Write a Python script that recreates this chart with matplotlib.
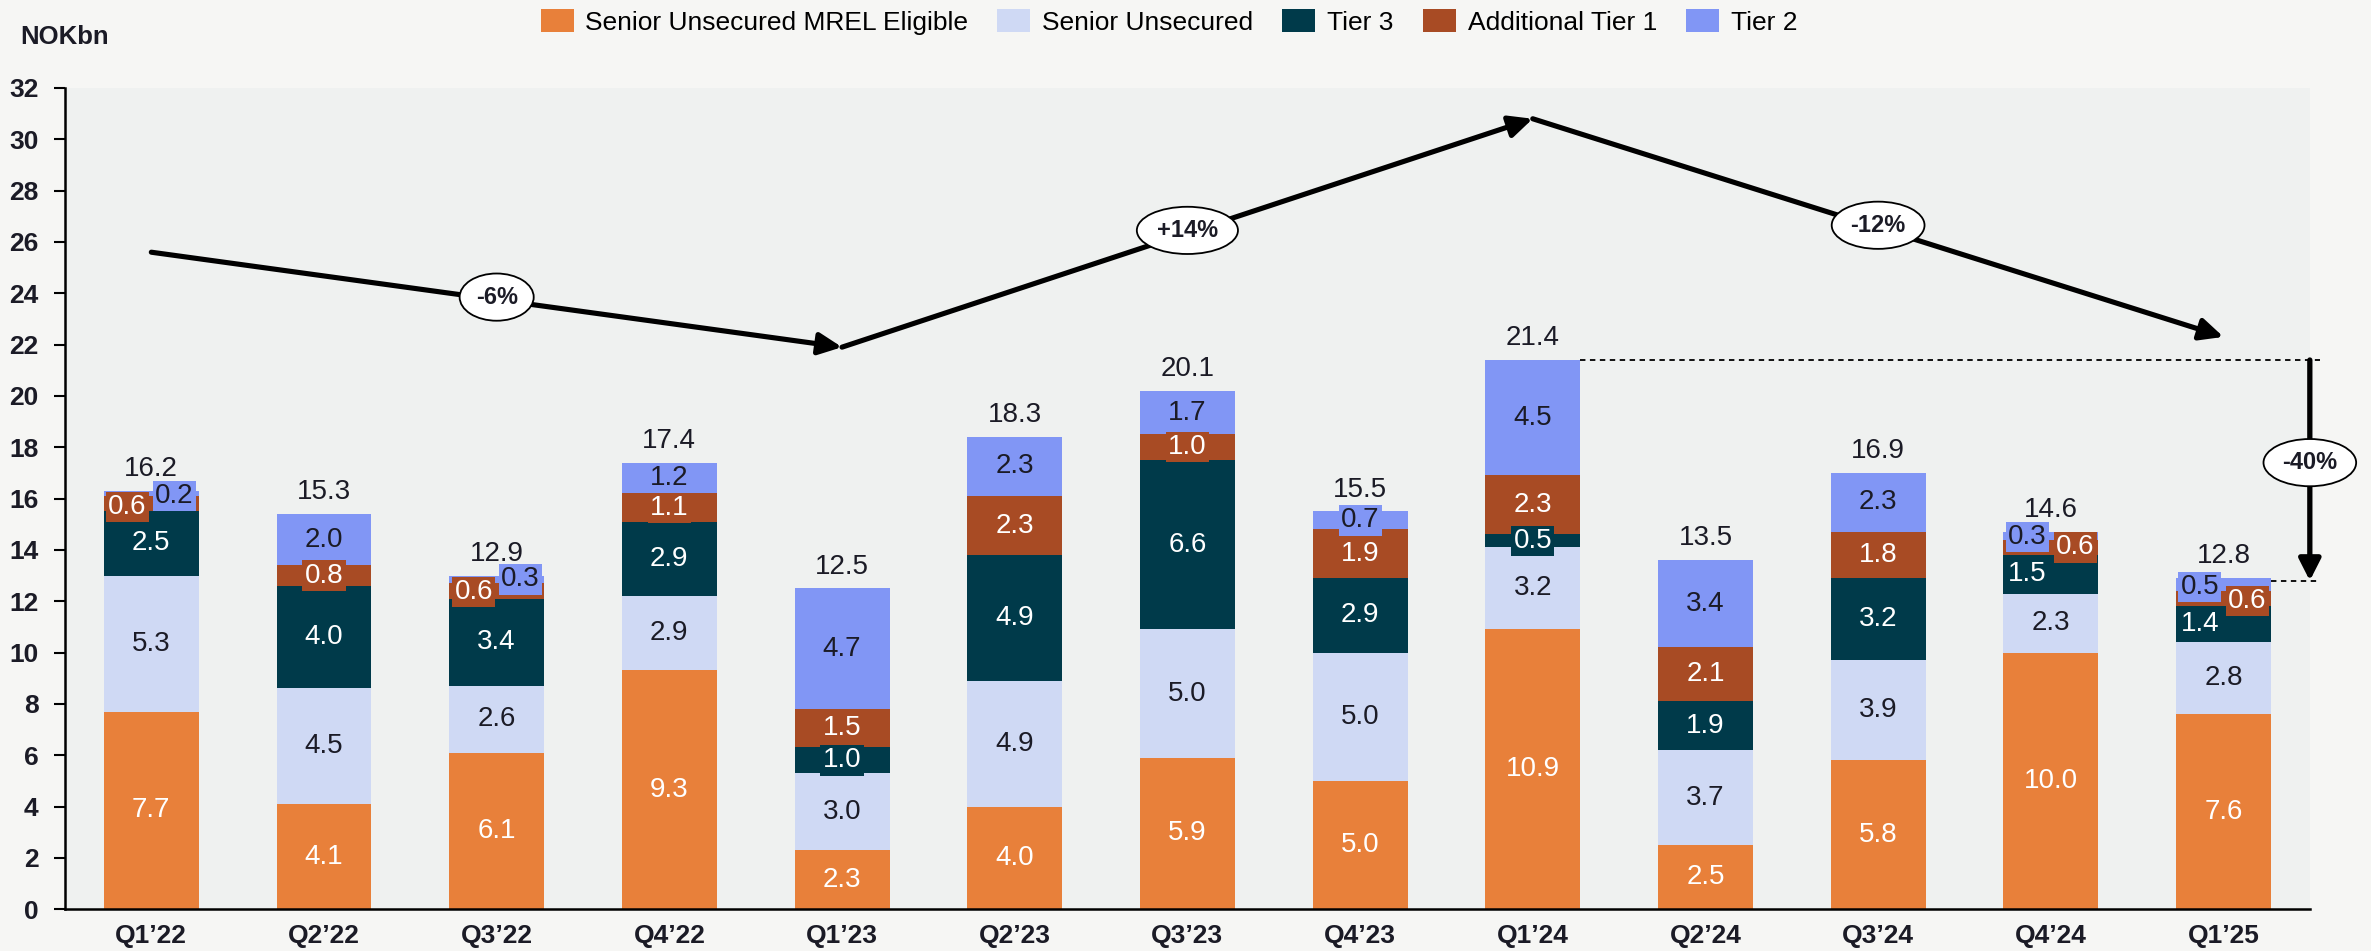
import matplotlib
matplotlib.use("Agg")
import numpy as np
import matplotlib.pyplot as plt
from matplotlib.patches import Patch

plt.rcParams['font.family'] = ['Liberation Sans', 'DejaVu Sans']

# Dane (NOKbn)
kwartaly = ['Q1’22', 'Q2’22', 'Q3’22', 'Q4’22', 'Q1’23', 'Q2’23', 'Q3’23',
            'Q4’23', 'Q1’24', 'Q2’24', 'Q3’24', 'Q4’24', 'Q1’25']
mrel = [7.7, 4.1, 6.1, 9.3, 2.3, 4.0, 5.9, 5.0, 10.9, 2.5, 5.8, 10.0, 7.6]
senior = [5.3, 4.5, 2.6, 2.9, 3.0, 4.9, 5.0, 5.0, 3.2, 3.7, 3.9, 2.3, 2.8]
tier3 = [2.5, 4.0, 3.4, 2.9, 1.0, 4.9, 6.6, 2.9, 0.5, 1.9, 3.2, 1.5, 1.4]
at1 = [0.6, 0.8, 0.6, 1.1, 1.5, 2.3, 1.0, 1.9, 2.3, 2.1, 1.8, 0.6, 0.6]
tier2 = [0.2, 2.0, 0.3, 1.2, 4.7, 2.3, 1.7, 0.7, 4.5, 3.4, 2.3, 0.3, 0.5]
sumy = [16.2, 15.3, 12.9, 17.4, 12.5, 18.3, 20.1, 15.5, 21.4, 13.5, 16.9, 14.6, 12.8]
nazwy = ['Senior Unsecured MREL Eligible', 'Senior Unsecured', 'Tier 3',
         'Additional Tier 1', 'Tier 2']
zmiany = ['-6%', '+14%', '-12%']
zmiana_calk = '-40%'

# Styl
kolory = ['#E8803A', '#CFD9F4', '#003A4A', '#A84B24', '#8196F5']
kolory_txt = ['white', '#1b1b26', 'white', 'white', '#1b1b26']
ciemny = '#1b1b26'
szer = 0.55
# przesuniecia etykiet malych segmentow: (bar, seria) -> (dx w szer. slupka, dy)
przes = {(0, 3): (-0.25, -0.13), (0, 4): (0.245, -0.1),
         (2, 3): (-0.24, -0.05), (2, 4): (0.25, 0.0),
         (11, 2): (-0.25, 0.0), (11, 3): (0.26, 0.0), (11, 4): (-0.25, -0.05),
         (12, 2): (-0.25, 0.0), (12, 3): (0.25, -0.1), (12, 4): (-0.25, -0.1)}
# punkty strzalek trendu (indeks slupka, wysokosc)
trend_x = [0, 4, 8, 12]
trend_y = [25.6, 21.9, 30.8, 22.3]

serie = [mrel, senior, tier3, at1, tier2]
x = np.arange(len(kwartaly))

fig = plt.figure(figsize=(23.71, 9.51), dpi=100, facecolor='#F6F6F4')
ax = fig.add_axes([0.0274, 0.044, 0.9468, 0.8635])
ax.set_facecolor('#EFF1F0')

dol = np.zeros(len(x))
for s, (vals, kol) in enumerate(zip(serie, kolory)):
    vals = np.array(vals)
    ax.bar(x, vals, szer, bottom=dol, color=kol, zorder=2)
    for i, v in enumerate(vals):
        dx, dy = przes.get((i, s), (0, 0))
        ax.text(x[i] + dx * szer, dol[i] + v / 2 + dy, f'{v:.1f}', ha='center', va='center',
                fontsize=20, color=kolory_txt[s], zorder=4,
                bbox=dict(boxstyle='square,pad=0.08', fc=kol, ec='none'))
    dol += vals

for i, t in enumerate(sumy):
    ax.text(x[i], dol[i] + 0.85, f'{t:.1f}', ha='center', va='center',
            fontsize=20, color=ciemny, zorder=4)

# strzalki trendu
for k in range(len(zmiany)):
    x0, x1 = trend_x[k], trend_x[k + 1]
    y0, y1 = trend_y[k], trend_y[k + 1]
    ax.annotate('', xy=(x1, y1), xytext=(x0, y0), zorder=5,
                arrowprops=dict(arrowstyle='-|>,head_length=0.7,head_width=0.33',
                                lw=3.7, color='black', shrinkA=0, shrinkB=0,
                                mutation_scale=20))
    ax.text((x0 + x1) / 2, (y0 + y1) / 2 + 0.1, zmiany[k], ha='center', va='center',
            fontsize=17, fontweight='bold', color=ciemny, zorder=6,
            bbox=dict(boxstyle='ellipse,pad=0.22', fc='white', ec='black', lw=1.3))

# zmiana calkowita Q1'24 -> Q1'25
i_max = int(np.argmax(sumy))
i_end = len(sumy) - 1
xa = 12.5
ax.plot([x[i_max] + szer / 2, xa + 0.06], [sumy[i_max]] * 2, ls='--', color='black',
        lw=1.3, zorder=3, clip_on=False, dashes=(3, 2.5))
ax.plot([x[i_end] + szer / 2, xa + 0.06], [sumy[i_end]] * 2, ls='--', color='black',
        lw=1.3, zorder=3, clip_on=False, dashes=(3, 2.5))
ax.annotate('', xy=(xa, sumy[i_end]), xytext=(xa, sumy[i_max]), zorder=5,
            annotation_clip=False,
            arrowprops=dict(arrowstyle='-|>,head_length=0.65,head_width=0.33',
                            lw=3.8, color='black', shrinkA=0, shrinkB=0,
                            mutation_scale=20))
ax.text(xa, (sumy[i_max] + sumy[i_end]) / 2 + 0.3, zmiana_calk, ha='center', va='center',
        fontsize=17, fontweight='bold', color=ciemny, zorder=6,
        bbox=dict(boxstyle='ellipse,pad=0.22', fc='white', ec='black', lw=1.3))

ax.set_xlim(-0.5, 12.5)
ax.set_ylim(0, 32)
ax.set_yticks(np.arange(0, 33, 2))
ax.set_xticks(x)
ax.set_xticklabels(kwartaly)
ax.tick_params(axis='y', length=8, width=1.5, pad=11, labelsize=19, labelcolor=ciemny)
ax.tick_params(axis='x', length=0, pad=11, labelsize=19, labelcolor=ciemny)
for lab in ax.get_xticklabels() + ax.get_yticklabels():
    lab.set_fontweight('bold')
for sp in ['top', 'right']:
    ax.spines[sp].set_visible(False)
for sp in ['left', 'bottom']:
    ax.spines[sp].set_linewidth(1.8)

fig.text(20 / 2371, 1 - 37 / 951, 'NOKbn', fontsize=18.5, fontweight='bold', color=ciemny,
         ha='left', va='center')

uchwyty = [Patch(facecolor=k) for k in kolory]
fig.legend(uchwyty, nazwy, loc='center', bbox_to_anchor=(0.493, 1 - 22 / 951), ncol=5,
           frameon=False, fontsize=19, handlelength=1.25, handleheight=0.95,
           columnspacing=1.1, handletextpad=0.45)

fig.savefig('out.png', dpi=100, facecolor=fig.get_facecolor())
